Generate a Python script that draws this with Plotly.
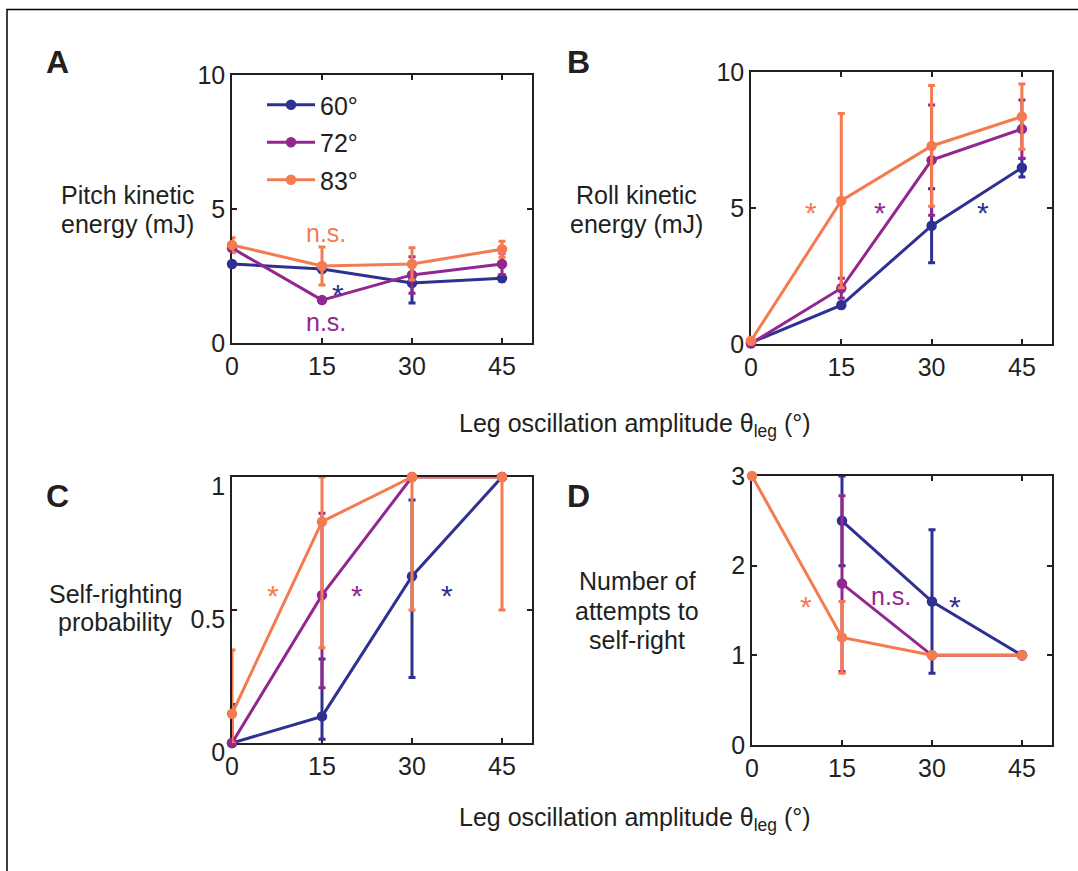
import plotly.graph_objects as go

W, H = 1078, 871

NAVY = "#2E3192"
PURPLE = "#92278F"
ORANGE = "#F47B50"
INK = "#231F20"
FONT = "Arial, Liberation Sans, sans-serif"
FS = 25

# Leg oscillation amplitude (deg)
amp = [0, 15, 30, 45]
amp_d = [15, 30, 45]

# A: pitch kinetic energy (mJ), mean and error
pitch_60 = [2.95, 2.76, 2.24, 2.42]
pitch_60_err = [0.08, 0.10, 0.75, 0.12]
pitch_72 = [3.54, 1.60, 2.54, 2.95]
pitch_72_err = [0.15, 0.08, 0.68, 0.40]
pitch_83 = [3.66, 2.87, 2.95, 3.50]
pitch_83_err = [0.27, 0.71, 0.60, 0.30]

# B: roll kinetic energy (mJ)
roll_60 = [0.05, 1.43, 4.35, 6.48]
roll_60_err = [0.05, 0.10, 1.36, 0.34]
roll_72 = [0.02, 2.05, 6.76, 7.90]
roll_72_err = [0.05, 0.37, 2.03, 1.07]
roll_83 = [0.12, 5.27, 7.28, 8.36]
roll_83_err = [0.05, 3.20, 2.22, 1.20]

# C: self-righting probability with asymmetric intervals
prob_60 = [0.0, 0.10, 0.627, 1.0]
prob_60_hi = [0.145, 0.216, 0.287, 0.0]
prob_60_lo = [0.0, 0.086, 0.381, 0.0]
prob_72 = [0.0, 0.556, 1.0, 1.0]
prob_72_hi = [0.0, 0.308, 0.0, 0.0]
prob_72_lo = [0.0, 0.348, 0.0, 0.0]
prob_83 = [0.11, 0.832, 1.0, 1.0]
prob_83_hi = [0.24, 0.168, 0.0, 0.0]
prob_83_lo = [0.11, 0.474, 0.5, 0.5]

# D: number of attempts to self-right
att_60 = [2.5, 1.6, 1.0]
att_60_err = [0.5, 0.8, 0.0]
att_72 = [1.8, 1.0, 1.0]
att_72_err = [0.98, 0.0, 0.0]
att_83 = [3.0, 1.2, 1.0, 1.0]
att_83_err = [0.0, 0.4, 0.0, 0.0]


def px(x, y):
    return x / W, 1 - y / H


fig = go.Figure()


def add_series(xa, ya, x, y, hi, lo, color, name, legend=False):
    fig.add_trace(go.Scatter(
        x=x, y=y, xaxis=xa, yaxis=ya, name=name,
        mode="lines+markers",
        line=dict(color=color, width=3),
        marker=dict(color=color, size=10.5),
        error_y=dict(type="data", array=hi, arrayminus=lo, symmetric=False,
                     color=color, thickness=3, width=3.5),
        cliponaxis=False,
        showlegend=legend, legendgroup=name,
    ))


names = ["60°", "72°", "83°"]
cols = [NAVY, PURPLE, ORANGE]

for (m, e), c, n in zip([(pitch_60, pitch_60_err), (pitch_72, pitch_72_err),
                         (pitch_83, pitch_83_err)], cols, names):
    add_series("x", "y", amp, m, e, e, c, n, legend=True)

for (m, e), c, n in zip([(roll_60, roll_60_err), (roll_72, roll_72_err),
                         (roll_83, roll_83_err)], cols, names):
    add_series("x2", "y2", amp, m, e, e, c, n)

for (m, hi, lo), c, n in zip([(prob_60, prob_60_hi, prob_60_lo),
                              (prob_72, prob_72_hi, prob_72_lo),
                              (prob_83, prob_83_hi, prob_83_lo)], cols, names):
    add_series("x3", "y3", amp, m, hi, lo, c, n)

add_series("x4", "y4", amp_d, att_60, att_60_err, att_60_err, NAVY, names[0])
add_series("x4", "y4", amp_d, att_72, att_72_err, att_72_err, PURPLE, names[1])
add_series("x4", "y4", amp, att_83, att_83_err, att_83_err, ORANGE, names[2])

axis_common = dict(
    showline=True, linecolor=INK, linewidth=1.5, mirror="ticks",
    ticks="inside", ticklen=5, tickwidth=1.5, tickcolor=INK,
    showgrid=False, zeroline=False, layer="below traces", automargin=False,
    tickfont=dict(family=FONT, size=FS, color=INK),
)

xdom_l = [232 / W, 532 / W]
xdom_r = [751 / W, 1052 / W]
ydom_top_l = [1 - 343 / H, 1 - 75 / H]
ydom_top_r = [1 - 344 / H, 1 - 72 / H]
ydom_bot_l = [1 - 743 / H, 1 - 477 / H]
ydom_bot_r = [1 - 745 / H, 1 - 476 / H]

xticks = dict(range=[0, 50], tickvals=amp, **axis_common)

fig.update_layout(
    width=W, height=H,
    margin=dict(l=0, r=0, t=0, b=0, pad=0, autoexpand=False),
    paper_bgcolor="white", plot_bgcolor="white",
    font=dict(family=FONT, size=FS, color=INK),
    xaxis=dict(domain=xdom_l, anchor="y", **xticks),
    yaxis=dict(domain=ydom_top_l, anchor="x", range=[0, 10], tickvals=[0, 5, 10], **axis_common),
    xaxis2=dict(domain=xdom_r, anchor="y2", **xticks),
    yaxis2=dict(domain=ydom_top_r, anchor="x2", range=[0, 10], tickvals=[0, 5, 10], **axis_common),
    xaxis3=dict(domain=xdom_l, anchor="y3", **xticks),
    yaxis3=dict(domain=ydom_bot_l, anchor="x3", range=[0, 1], tickvals=[0, 0.5, 1],
                ticktext=["0", "0.5", "1"], ticklabelshift=9, **axis_common),
    xaxis4=dict(domain=[752 / W, 1052 / W], anchor="y4", **xticks),
    yaxis4=dict(domain=ydom_bot_r, anchor="x4", range=[0, 3], tickvals=[0, 1, 2, 3], **axis_common),
    legend=dict(x=262 / W, y=1 - 82 / H, xanchor="left", yanchor="top",
                bgcolor="rgba(0,0,0,0)", font=dict(family=FONT, size=FS, color=INK),
                traceorder="grouped", tracegroupgap=2, itemwidth=48),
)

annots = []


def text_px(x, y, s, size=FS, color=INK, bold=False):
    ax, ay = px(x, y)
    annots.append(dict(x=ax, y=ay, xref="paper", yref="paper", text=f"<b>{s}</b>" if bold else s,
                       showarrow=False, xanchor="center", yanchor="middle",
                       font=dict(family=FONT, size=size, color=color)))


def text_data(xa, ya, x, y, s, color, size=FS):
    annots.append(dict(x=x, y=y, xref=xa, yref=ya, text=s, showarrow=False,
                       xanchor="center", yanchor="middle",
                       font=dict(family=FONT, size=size, color=color)))


# panel letters
text_px(57, 62, "A", size=32, bold=True)
text_px(578, 62, "B", size=32, bold=True)
text_px(57, 496, "C", size=32, bold=True)
text_px(578, 496, "D", size=32, bold=True)

# y-axis titles, one line each
text_px(127, 195, "Pitch kinetic")
text_px(127, 224, "energy (mJ)")
text_px(636, 195, "Roll kinetic")
text_px(636, 224, "energy (mJ)")
text_px(115, 594, "Self-righting")
text_px(115, 622, "probability")
text_px(637, 581, "Number of")
text_px(637, 611, "attempts to")
text_px(637, 640, "self-right")

# shared x-axis titles
xt = "Leg oscillation amplitude θ<sub>leg</sub> (°)"
text_px(635, 425, xt)
text_px(635, 819, xt)

# significance marks
STAR = 30
text_data("x", "y", 15.7, 4.12, "n.s.", ORANGE)
text_data("x", "y", 15.7, 0.80, "n.s.", PURPLE)
text_data("x", "y", 17.7, 1.80, "*", NAVY, STAR)
for xv, c in [(10.0, ORANGE), (21.4, PURPLE), (38.5, NAVY)]:
    text_data("x2", "y2", xv, 4.85, "*", c, STAR)
for xv, c in [(6.8, ORANGE), (20.8, PURPLE), (35.8, NAVY)]:
    text_data("x3", "y3", xv, 0.555, "*", c, STAR)
text_data("x4", "y4", 9.0, 1.54, "*", ORANGE, STAR)
text_data("x4", "y4", 23.2, 1.66, "n.s.", PURPLE)
text_data("x4", "y4", 33.8, 1.54, "*", NAVY, STAR)

fig.update_layout(annotations=annots)

# outer frame
fig.add_shape(type="rect", xref="paper", yref="paper",
              x0=7 / W, x1=1.05, y0=-0.05, y1=1 - 9.5 / H,
              line=dict(color="black", width=1.5), fillcolor="rgba(0,0,0,0)")

fig.write_html("out.html")
